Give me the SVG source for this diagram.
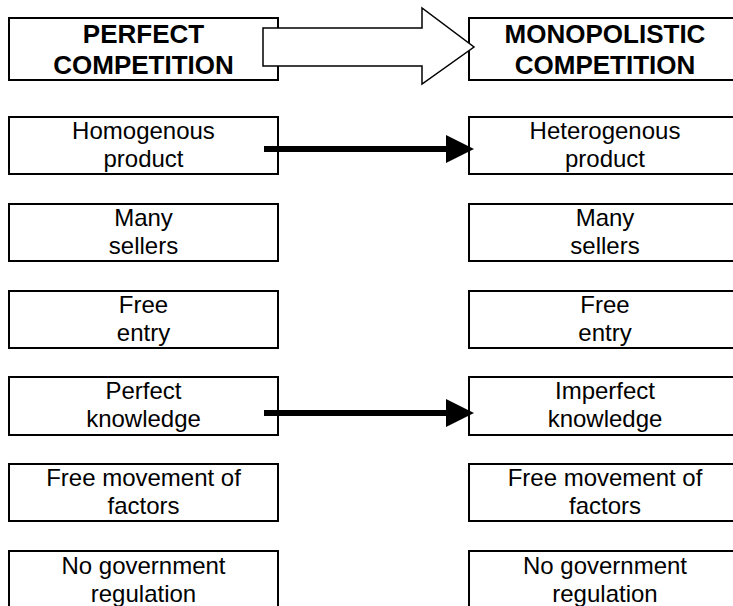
<svg xmlns="http://www.w3.org/2000/svg" width="733" height="606" viewBox="0 0 733 606">
<style>
.box{fill:#fff;stroke:#000;stroke-width:2}
.t{font-family:"Liberation Sans",Arial,sans-serif;font-size:24px;text-anchor:middle;fill:#000}
.h{font-family:"Liberation Sans",Arial,sans-serif;font-size:26px;font-weight:bold;text-anchor:middle;fill:#000}
.conn{stroke:#000;stroke-width:6;fill:none}
</style>
<defs>
<marker id="ah" markerUnits="userSpaceOnUse" markerWidth="28" markerHeight="28" refX="0" refY="14" orient="auto">
<path d="M0,0 L28,14 L0,28 Z" fill="#000"/>
</marker>
</defs>
<g id="perfect-title"><rect class="box" x="9" y="18" width="269" height="62"/><text class="h" x="143.5" y="43">PERFECT</text><text class="h" x="143.5" y="74">COMPETITION</text></g>
<g id="mono-title"><rect class="box" x="469" y="18" width="271" height="62"/><text class="h" x="605" y="43">MONOPOLISTIC</text><text class="h" x="605" y="74">COMPETITION</text></g>
<g id="l1"><rect class="box" x="9" y="117" width="269" height="57"/><text class="t" x="143.5" y="139">Homogenous</text><text class="t" x="143.5" y="167">product</text></g>
<g id="r1"><rect class="box" x="469" y="117" width="271" height="57"/><text class="t" x="605" y="139">Heterogenous</text><text class="t" x="605" y="167">product</text></g>
<g id="l2"><rect class="box" x="9" y="204" width="269" height="57"/><text class="t" x="143.5" y="226">Many</text><text class="t" x="143.5" y="254">sellers</text></g>
<g id="r2"><rect class="box" x="469" y="204" width="271" height="57"/><text class="t" x="605" y="226">Many</text><text class="t" x="605" y="254">sellers</text></g>
<g id="l3"><rect class="box" x="9" y="291" width="269" height="57"/><text class="t" x="143.5" y="313">Free</text><text class="t" x="143.5" y="341">entry</text></g>
<g id="r3"><rect class="box" x="469" y="291" width="271" height="57"/><text class="t" x="605" y="313">Free</text><text class="t" x="605" y="341">entry</text></g>
<g id="l4"><rect class="box" x="9" y="377" width="269" height="58"/><text class="t" x="143.5" y="399">Perfect</text><text class="t" x="143.5" y="427">knowledge</text></g>
<g id="r4"><rect class="box" x="469" y="377" width="271" height="58"/><text class="t" x="605" y="399">Imperfect</text><text class="t" x="605" y="427">knowledge</text></g>
<g id="l5"><rect class="box" x="9" y="464" width="269" height="57"/><text class="t" x="143.5" y="486">Free movement of</text><text class="t" x="143.5" y="514">factors</text></g>
<g id="r5"><rect class="box" x="469" y="464" width="271" height="57"/><text class="t" x="605" y="486">Free movement of</text><text class="t" x="605" y="514">factors</text></g>
<g id="l6"><rect class="box" x="9" y="551" width="269" height="60"/><text class="t" x="143.5" y="574">No government</text><text class="t" x="143.5" y="602">regulation</text></g>
<g id="r6"><rect class="box" x="469" y="551" width="271" height="60"/><text class="t" x="605" y="574">No government</text><text class="t" x="605" y="602">regulation</text></g>
<g id="connectors">
<path d="M263,28 L422,28 L422,8 L474,47 L422,84 L422,66 L263,66 Z" fill="#fff" stroke="#000" stroke-width="1.5" stroke-linejoin="miter"/>
<line class="conn" x1="264" y1="149" x2="446" y2="149" marker-end="url(#ah)"/>
<line class="conn" x1="264" y1="413" x2="446" y2="413" marker-end="url(#ah)"/>
</g>
</svg>
